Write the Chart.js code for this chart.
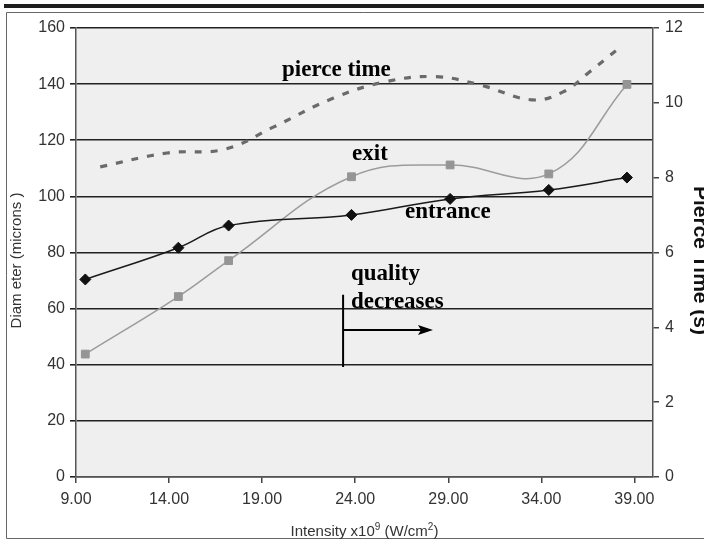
<!DOCTYPE html>
<html><head><meta charset="utf-8">
<script src="https://cdn.jsdelivr.net/npm/chart.js@4.4.0/dist/chart.umd.min.js"></script>
<style>
html,body{margin:0;padding:0;overflow:hidden;background:#fff;width:704px;height:540px}
#wrap{position:absolute;left:0;top:0;width:720px;height:540px}
</style></head><body>
<div id="wrap"><canvas id="c" width="720" height="540"></canvas></div>
<script>
// ---- data ----
const intensity = [9.5, 14.5, 17.2, 23.8, 29.1, 34.4, 38.6];
const entrance  = [70.4, 81.7, 89.6, 93.4, 99.1, 102.3, 106.7];
const exitDia   = [43.8, 64.3, 77.1, 107.0, 111.2, 108.0, 139.9];
const pierceIntensity = [10.3, 13.9, 17.0, 19.6, 22.8, 25.6, 28.3, 30.7, 33.5, 35.2, 36.6, 38.1];
const pierceTime      = [8.29, 8.66, 8.76, 9.35, 10.12, 10.56, 10.70, 10.48, 10.08, 10.30, 10.83, 11.43];
const xTicks = [9, 14, 19, 24, 29, 34, 39];
const diameterTicks = [0, 20, 40, 60, 80, 100, 120, 140, 160];
const timeTicks = [0, 2, 4, 6, 8, 10, 12];

// annotation labels (in data coordinates of the x / left axes)
const noteText = ['pierce time', 'exit', 'entrance', 'quality', 'decreases'];
const noteX    = [20.07, 23.83, 26.68, 23.77, 23.77];
const noteY    = [142.9, 113.0, 92.3, 70.2, 60.2];
const arrowX = 23.35, arrowTopY = 64.9, arrowBottomY = 39.2, arrowY = 52.4, arrowTipX = 28.18;

const xy = (xs, ys) => xs.map((x, i) => ({x: x, y: ys[i]}));

const deco = {
  id: 'deco',
  beforeDraw(chart) {
    const ctx = chart.ctx, a = chart.chartArea, W = chart.width;
    ctx.save();
    ctx.fillStyle = '#fff'; ctx.fillRect(0, 0, W, chart.height);
    ctx.fillStyle = '#1e1e1e'; ctx.fillRect(4, 4, W, 4);
    ctx.strokeStyle = '#666'; ctx.lineWidth = 1;
    ctx.beginPath(); ctx.moveTo(W, 12.5); ctx.lineTo(6.5, 12.5); ctx.lineTo(6.5, 538.5); ctx.lineTo(W, 538.5); ctx.stroke();
    ctx.fillStyle = '#efefef'; ctx.fillRect(a.left, a.top, a.right - a.left, a.bottom - a.top);
    ctx.restore();
  },
  afterDraw(chart) {
    const ctx = chart.ctx, a = chart.chartArea;
    const sx = chart.scales.x, sy = chart.scales.y;
    ctx.save();
    ctx.fillStyle = '#000'; ctx.textAlign = 'left'; ctx.textBaseline = 'alphabetic';
    ctx.font = 'bold 23px "Liberation Serif"';
    noteText.forEach((t, i) => ctx.fillText(t, sx.getPixelForValue(noteX[i]), sy.getPixelForValue(noteY[i])));
    // arrow
    const ax = sx.getPixelForValue(arrowX), ay = sy.getPixelForValue(arrowY), tip = sx.getPixelForValue(arrowTipX);
    ctx.strokeStyle = '#000'; ctx.lineWidth = 2;
    ctx.beginPath();
    ctx.moveTo(ax, sy.getPixelForValue(arrowTopY)); ctx.lineTo(ax, sy.getPixelForValue(arrowBottomY));
    ctx.moveTo(ax, ay); ctx.lineTo(tip - 12, ay);
    ctx.stroke();
    ctx.beginPath(); ctx.moveTo(tip, ay); ctx.lineTo(tip - 15, ay - 5); ctx.lineTo(tip - 12, ay); ctx.lineTo(tip - 15, ay + 5); ctx.closePath(); ctx.fill();
    // axis titles
    const cy = (a.top + a.bottom) / 2 + 8;
    ctx.fillStyle = '#333';
    ctx.font = '15px "Liberation Sans"';
    ctx.save(); ctx.translate(17, cy); ctx.rotate(-Math.PI / 2); ctx.textAlign = 'center'; ctx.textBaseline = 'middle';
    ctx.fillText('Diam eter (microns )', 0, 0); ctx.restore();
    ctx.fillStyle = '#111';
    ctx.font = 'bold 21px "Liberation Sans"';
    ctx.save(); ctx.translate(694, cy); ctx.rotate(Math.PI / 2); ctx.textAlign = 'center'; ctx.textBaseline = 'alphabetic';
    ctx.fillText('Pierce Time (s)', 0, 0); ctx.restore();
    // x title with superscripts
    ctx.fillStyle = '#333';
    const parts = [['Intensity x10', 15, 0], ['9', 10, -6], [' (W/cm', 15, 0], ['2', 10, -6], [')', 15, 0]];
    let total = 0;
    parts.forEach(p => { ctx.font = p[1] + 'px "Liberation Sans"'; total += ctx.measureText(p[0]).width; });
    let px = (a.left + a.right) / 2 - total / 2;
    ctx.textAlign = 'left';
    parts.forEach(p => { ctx.font = p[1] + 'px "Liberation Sans"'; ctx.fillText(p[0], px, 536 + p[2]); px += ctx.measureText(p[0]).width; });
    ctx.restore();
  }
};

const tickFont = {family: 'Liberation Sans', size: 16};
new Chart(document.getElementById('c'), {
  type: 'line',
  data: {
    datasets: [
      {label: 'entrance', data: xy(intensity, entrance), yAxisID: 'y', borderColor: '#1a1a1a', borderWidth: 1.5,
       pointStyle: 'rectRot', pointRadius: 5.5, pointBackgroundColor: '#111', pointBorderColor: '#111', pointBorderWidth: 1, tension: 0.4},
      {label: 'exit', data: xy(intensity, exitDia), yAxisID: 'y', borderColor: '#9c9c9c', borderWidth: 1.5,
       pointStyle: 'rect', pointRadius: 5.5, pointBackgroundColor: '#959595', pointBorderColor: '#959595', pointBorderWidth: 1, tension: 0.4},
      {label: 'pierce time', data: xy(pierceIntensity, pierceTime), yAxisID: 'y2', borderColor: '#6a6a6a', borderWidth: 3.2,
       borderDash: [7, 9], pointRadius: 0, tension: 0.4}
    ]
  },
  options: {
    responsive: false, animation: false, devicePixelRatio: 1,
    layout: {padding: {top: 28, left: 0, right: 0, bottom: 0}},
    plugins: {legend: {display: false}, tooltip: {enabled: false}},
    scales: {
      x: {type: 'linear', min: 9, max: 40,
          afterBuildTicks: s => { s.ticks = xTicks.map(v => ({value: v})); },
          afterFit: s => { s.height = 63; },
          grid: {drawOnChartArea: false, drawTicks: true, tickLength: 6, color: '#444', lineWidth: 1.5},
          border: {display: true, color: '#555', width: 1.5},
          ticks: {font: tickFont, color: '#333', padding: 7, maxRotation: 0, autoSkip: false, callback: v => Number(v).toFixed(2)}},
      y: {type: 'linear', position: 'left', min: 0, max: 160,
          afterBuildTicks: s => { s.ticks = diameterTicks.map(v => ({value: v})); },
          afterFit: s => { s.width = 76; },
          grid: {color: '#222', lineWidth: 1.6, drawTicks: true, tickLength: 6},
          border: {display: true, color: '#555', width: 1.5},
          ticks: {font: tickFont, color: '#333', padding: 5}},
      y2: {type: 'linear', position: 'right', min: 0, max: 12,
          afterBuildTicks: s => { s.ticks = timeTicks.map(v => ({value: v})); },
          afterFit: s => { s.width = 67; },
          grid: {drawOnChartArea: false, drawTicks: true, tickLength: 6, color: '#444', lineWidth: 1.5},
          border: {display: true, color: '#555', width: 1.5},
          ticks: {font: tickFont, color: '#333', padding: 6}}
    }
  },
  plugins: [deco]
});
</script>
</body></html>
